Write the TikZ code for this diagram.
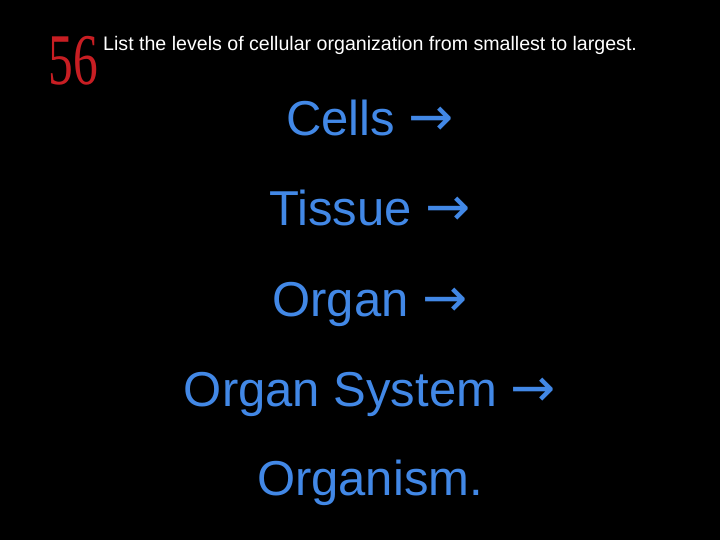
\documentclass[tikz,border=0pt]{standalone}
\usepackage{fontspec}
\setmainfont{Liberation Sans}
\newfontfamily\arrowfont{DejaVu Sans}
\newfontfamily\numfont{Liberation Serif}
\definecolor{itemblue}{RGB}{66,136,230}
\definecolor{numred}{RGB}{200,30,35}
\begin{document}
\begin{tikzpicture}[x=1pt,y=1pt,
  item/.style={text=itemblue,font=\fontsize{49}{52}\selectfont,inner sep=0pt,anchor=base}]
\fill[black] (0,0) rectangle (720,540);
\useasboundingbox (0,0) rectangle (720,540);
\node[text=numred,inner sep=0pt,anchor=base] (num) at (73,455) {\scalebox{0.95}[1.4]{\numfont\fontsize{52}{54}\selectfont 56}};
\node[text=white,inner sep=0pt,anchor=base west,font=\fontsize{19.6}{22}\selectfont] (title) at (103,489) {List the levels of cellular organization from smallest to largest.};
\node[item] (a) at (370,404) {Cells {\arrowfont\fontsize{54}{54}\selectfont →}};
\node[item] (b) at (370,314) {Tissue {\arrowfont\fontsize{54}{54}\selectfont →}};
\node[item] (c) at (370,223) {Organ {\arrowfont\fontsize{54}{54}\selectfont →}};
\node[item] (d) at (370,133) {Organ System {\arrowfont\fontsize{54}{54}\selectfont →}};
\node[item] (e) at (370,44) {Organism.};
\end{tikzpicture}
\end{document}
